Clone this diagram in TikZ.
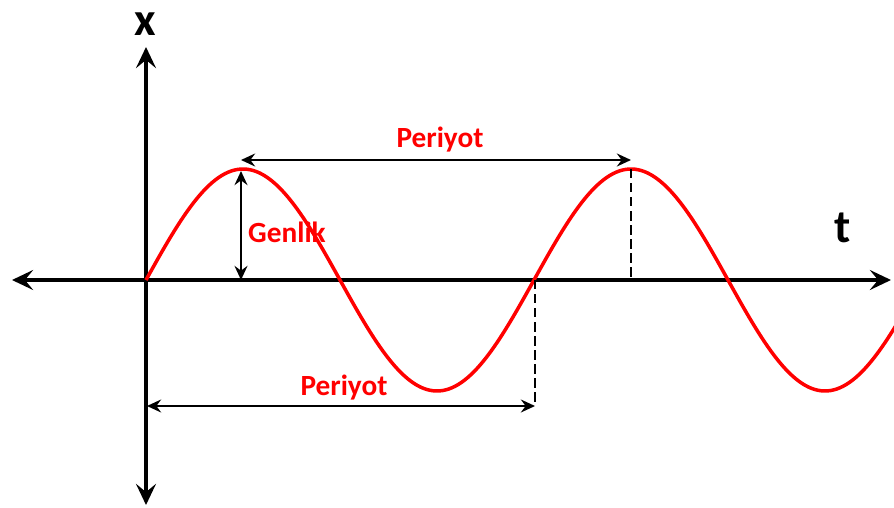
\documentclass[tikz,border=0pt]{standalone}
\usepackage{fontspec}
\setmainfont{Carlito}
\usetikzlibrary{arrows.meta}

\tikzset{
  axis/.style={line width=3.2pt,arrows={Stealth[length=18pt,width=17pt,inset=7pt]-Stealth[length=18pt,width=17pt,inset=7pt]}},
  wave/.style={red,line width=3pt},
  dim/.style={line width=2.2pt,arrows={Stealth[length=12pt,width=11pt,inset=4pt]-Stealth[length=12pt,width=11pt,inset=4pt]}},
  guide/.style={line width=2.4pt,dash pattern=on 8pt off 4pt},
  lbl/.style={text=red,font=\fontsize{25}{28}\selectfont\bfseries,inner sep=0pt},
  axlbl/.style={font=\fontsize{40}{44}\selectfont\bfseries,inner sep=0pt}
}

\begin{document}
\begin{tikzpicture}[x=0.03cm,y=-0.03cm]

    \useasboundingbox (0,0) rectangle (894,508);

    \coordinate (O) at (146,280);
    \coordinate (L) at (12,280);
    \coordinate (R) at (891,280);
    \coordinate (T) at (146,47);
    \coordinate (B) at (146,505);

    \draw[axis] (L) -- (R);
    \draw[axis] (B) -- (T);

    \node[axlbl] (X) at (145,24) {x};
    \node[axlbl] (tt) at (843,228) {t};

    \begin{scope}
        \clip (0,0) rectangle (894,508);
        \draw[wave] plot[domain=146:900,samples=240] (\x,{280-111*sin(0.92784*(\x-146))});
    \end{scope}

    \coordinate (P1) at (241,280);
    \coordinate (Q1) at (241,171);
    \draw[dim] (P1) -- (Q1);
    \node[lbl] (genlik) at (287,232) {Genlik};

    \coordinate (A1) at (241,160);
    \coordinate (A2) at (631,160);
    \coordinate (D1) at (631,169);
    \coordinate (D2) at (631,280);
    \draw[dim] (A1) -- (A2);
    \draw[guide] (D1) -- (D2);
    \node[lbl] (per1) at (440,140) {Periyot};

    \coordinate (C1) at (147,406);
    \coordinate (C2) at (535,406);
    \coordinate (E1) at (535,280);
    \draw[dim] (C1) -- (C2);
    \draw[guide] (E1) -- (C2);
    \node[lbl] (per2) at (344,388) {Periyot};

\end{tikzpicture}
\end{document}
